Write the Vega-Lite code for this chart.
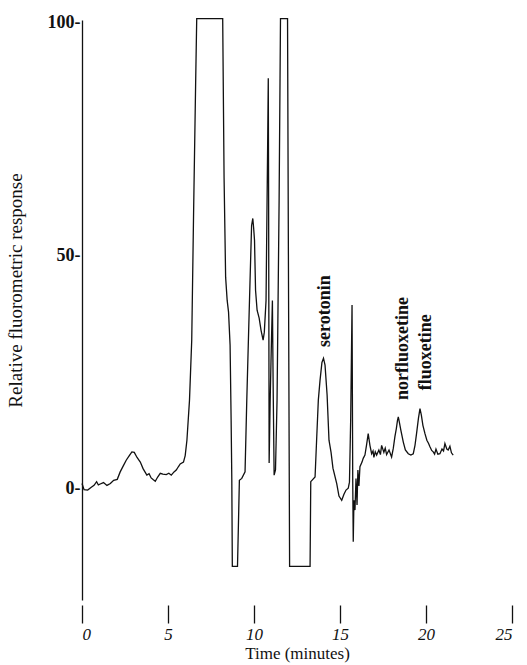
{
  "$schema": "https://vega.github.io/schema/vega-lite/v6.json",
  "width": 430,
  "height": 580,
  "autosize": {"type": "none"},
  "padding": {"left": 82, "top": 20, "right": 15, "bottom": 65},
  "background": "white",
  "config": {
    "view": {"stroke": null},
    "font": "Liberation Serif"
  },
  "datasets": {
    "trace": [
      {"t": 0.0, "v": 1.0}, {"t": 0.12, "v": -0.3}, {"t": 0.33, "v": -0.4}, {"t": 0.54, "v": 0.2},
      {"t": 0.7, "v": 0.6}, {"t": 0.85, "v": 1.4}, {"t": 0.95, "v": 0.7}, {"t": 1.06, "v": 0.9},
      {"t": 1.25, "v": 1.2}, {"t": 1.45, "v": 0.6}, {"t": 1.65, "v": 1.0}, {"t": 1.84, "v": 1.7},
      {"t": 2.05, "v": 1.9}, {"t": 2.22, "v": 3.5}, {"t": 2.4, "v": 4.8}, {"t": 2.57, "v": 6.0},
      {"t": 2.75, "v": 7.0}, {"t": 2.9, "v": 7.8}, {"t": 3.04, "v": 7.7}, {"t": 3.2, "v": 6.6},
      {"t": 3.39, "v": 5.6}, {"t": 3.55, "v": 4.2}, {"t": 3.77, "v": 2.8}, {"t": 3.9, "v": 3.1},
      {"t": 4.02, "v": 2.2}, {"t": 4.15, "v": 1.8}, {"t": 4.26, "v": 1.5}, {"t": 4.4, "v": 2.4},
      {"t": 4.55, "v": 3.2}, {"t": 4.7, "v": 3.0}, {"t": 4.9, "v": 2.9}, {"t": 5.05, "v": 3.2},
      {"t": 5.19, "v": 2.8}, {"t": 5.35, "v": 3.5}, {"t": 5.48, "v": 3.9}, {"t": 5.6, "v": 4.6},
      {"t": 5.71, "v": 5.2}, {"t": 5.9, "v": 5.6}, {"t": 6.0, "v": 7.0}, {"t": 6.1, "v": 10.3},
      {"t": 6.25, "v": 18.9}, {"t": 6.38, "v": 31.8}, {"t": 6.49, "v": 59.7}, {"t": 6.61, "v": 87.6},
      {"t": 6.67, "v": 100.8}, {"t": 8.18, "v": 100.8}, {"t": 8.26, "v": 66.7}, {"t": 8.35, "v": 45.3},
      {"t": 8.44, "v": 40.3}, {"t": 8.52, "v": 37.8}, {"t": 8.61, "v": 30.7}, {"t": 8.67, "v": 14.6},
      {"t": 8.71, "v": 1.7}, {"t": 8.74, "v": -16.8}, {"t": 9.04, "v": -16.8}, {"t": 9.1, "v": -6.9},
      {"t": 9.15, "v": 1.7}, {"t": 9.29, "v": 2.1}, {"t": 9.48, "v": 3.5}, {"t": 9.58, "v": 18.9},
      {"t": 9.69, "v": 33.9}, {"t": 9.77, "v": 44.6}, {"t": 9.86, "v": 56.4}, {"t": 9.93, "v": 57.9},
      {"t": 9.98, "v": 55.8}, {"t": 10.03, "v": 53.2}, {"t": 10.09, "v": 42.5}, {"t": 10.18, "v": 38.2},
      {"t": 10.3, "v": 36.5}, {"t": 10.41, "v": 33.9}, {"t": 10.53, "v": 31.8}, {"t": 10.6, "v": 33.5},
      {"t": 10.7, "v": 40.3}, {"t": 10.79, "v": 72.5}, {"t": 10.83, "v": 88.0}, {"t": 10.85, "v": 61.8},
      {"t": 10.88, "v": 5.4}, {"t": 10.94, "v": 18.9}, {"t": 10.99, "v": 27.5}, {"t": 11.07, "v": 40.3},
      {"t": 11.11, "v": 23.2}, {"t": 11.17, "v": 2.8}, {"t": 11.25, "v": 3.9}, {"t": 11.34, "v": 18.9},
      {"t": 11.46, "v": 61.8}, {"t": 11.54, "v": 100.8}, {"t": 11.95, "v": 100.8}, {"t": 12.01, "v": 40.3},
      {"t": 12.07, "v": -16.8}, {"t": 13.26, "v": -16.8}, {"t": 13.3, "v": 1.4}, {"t": 13.55, "v": 2.4},
      {"t": 13.64, "v": 10.3}, {"t": 13.74, "v": 18.9}, {"t": 13.84, "v": 23.2}, {"t": 13.95, "v": 27.0},
      {"t": 14.04, "v": 27.9}, {"t": 14.13, "v": 26.4}, {"t": 14.25, "v": 20.0}, {"t": 14.36, "v": 10.3},
      {"t": 14.48, "v": 7.7}, {"t": 14.59, "v": 4.3}, {"t": 14.81, "v": 1.0}, {"t": 14.94, "v": -1.7},
      {"t": 15.1, "v": -2.6}, {"t": 15.23, "v": -1.3}, {"t": 15.35, "v": -0.4}, {"t": 15.48, "v": 0.0},
      {"t": 15.55, "v": 1.3}, {"t": 15.62, "v": 14.6}, {"t": 15.7, "v": 39.3}, {"t": 15.74, "v": 1.7},
      {"t": 15.77, "v": -11.5}, {"t": 15.81, "v": -2.6}, {"t": 15.87, "v": -4.7}, {"t": 15.93, "v": 2.1},
      {"t": 15.99, "v": -3.6}, {"t": 16.04, "v": 3.9}, {"t": 16.1, "v": 0.5}, {"t": 16.16, "v": 4.6},
      {"t": 16.28, "v": 5.6}, {"t": 16.35, "v": 6.4}, {"t": 16.45, "v": 7.1}, {"t": 16.54, "v": 9.2},
      {"t": 16.64, "v": 11.7}, {"t": 16.74, "v": 9.2}, {"t": 16.84, "v": 7.4}, {"t": 16.92, "v": 8.0},
      {"t": 16.97, "v": 6.6}, {"t": 17.05, "v": 7.8}, {"t": 17.13, "v": 7.1}, {"t": 17.26, "v": 8.2},
      {"t": 17.35, "v": 7.2}, {"t": 17.42, "v": 9.2}, {"t": 17.55, "v": 7.7}, {"t": 17.63, "v": 8.6},
      {"t": 17.71, "v": 7.2}, {"t": 17.85, "v": 8.2}, {"t": 18.0, "v": 6.7}, {"t": 18.1, "v": 8.6},
      {"t": 18.19, "v": 11.0}, {"t": 18.28, "v": 12.9}, {"t": 18.34, "v": 14.5}, {"t": 18.39, "v": 15.3},
      {"t": 18.45, "v": 14.2}, {"t": 18.54, "v": 12.4}, {"t": 18.68, "v": 9.9}, {"t": 18.8, "v": 8.2},
      {"t": 18.97, "v": 7.4}, {"t": 19.12, "v": 7.1}, {"t": 19.26, "v": 7.4}, {"t": 19.36, "v": 9.2},
      {"t": 19.45, "v": 11.7}, {"t": 19.56, "v": 15.0}, {"t": 19.65, "v": 17.1}, {"t": 19.73, "v": 15.7},
      {"t": 19.82, "v": 13.5}, {"t": 19.94, "v": 11.7}, {"t": 20.05, "v": 10.3}, {"t": 20.15, "v": 9.6},
      {"t": 20.23, "v": 8.9}, {"t": 20.33, "v": 8.1}, {"t": 20.42, "v": 7.8}, {"t": 20.5, "v": 7.3},
      {"t": 20.58, "v": 8.4}, {"t": 20.69, "v": 7.3}, {"t": 20.81, "v": 7.4}, {"t": 20.93, "v": 8.4},
      {"t": 21.02, "v": 8.0}, {"t": 21.1, "v": 9.6}, {"t": 21.21, "v": 8.4}, {"t": 21.29, "v": 8.2},
      {"t": 21.39, "v": 9.0}, {"t": 21.48, "v": 7.6}, {"t": 21.58, "v": 7.1}
    ],
    "labels": [
      {"t": 14.13, "v": 38.0, "name": "serotonin"},
      {"t": 18.69, "v": 30.0, "name": "norfluoxetine"},
      {"t": 20.02, "v": 29.2, "name": "fluoxetine"}
    ]
  },
  "layer": [
    {
      "data": {"name": "trace"},
      "mark": {"type": "line", "color": "#111111", "strokeWidth": 1.3, "interpolate": "linear"},
      "encoding": {
        "x": {
          "field": "t", "type": "quantitative",
          "scale": {"domain": [0, 25], "nice": false, "zero": false},
          "axis": {
            "title": "Time (minutes)",
            "values": [0, 5, 10, 15, 20, 25],
            "grid": false,
            "domain": false,
            "offset": 5,
            "tickSize": 18,
            "tickColor": "#111111",
            "tickWidth": 1.3,
            "labelFont": "Liberation Serif",
            "labelFontSize": 17,
            "labelFontStyle": "italic",
            "labelColor": "#111111",
            "labelPadding": 3,
            "titleFont": "Liberation Serif",
            "titleFontSize": 17,
            "titleFontWeight": "normal",
            "titleColor": "#111111",
            "titlePadding": 3
          }
        },
        "y": {
          "field": "v", "type": "quantitative",
          "scale": {"domain": [-24, 100.5], "nice": false, "zero": false},
          "axis": {
            "title": "Relative fluorometric response",
            "values": [0, 50, 100],
            "labelExpr": "datum.label + '-'",
            "grid": false,
            "ticks": false,
            "domain": true,
            "domainColor": "#111111",
            "domainWidth": 1.3,
            "labelFont": "Liberation Serif",
            "labelFontSize": 18,
            "labelFontWeight": "bold",
            "labelColor": "#111111",
            "labelPadding": 2,
            "titleFont": "Liberation Serif",
            "titleFontSize": 19,
            "titleFontWeight": "normal",
            "titleColor": "#111111",
            "titleAngle": 270,
            "titleX": -67,
            "titleY": 270,
            "titleAlign": "center",
            "titleBaseline": "middle"
          }
        }
      }
    },
    {
      "mark": {"type": "rule", "color": "#111111", "strokeWidth": 1.3},
      "encoding": {"y": {"datum": -24}}
    },
    {
      "data": {"name": "labels"},
      "mark": {"type": "text", "angle": 270, "align": "center", "baseline": "middle", "font": "Liberation Serif", "fontSize": 18, "fontWeight": "bold", "color": "#111111"},
      "encoding": {
        "x": {"field": "t", "type": "quantitative"},
        "y": {"field": "v", "type": "quantitative"},
        "text": {"field": "name"}
      }
    }
  ]
}
